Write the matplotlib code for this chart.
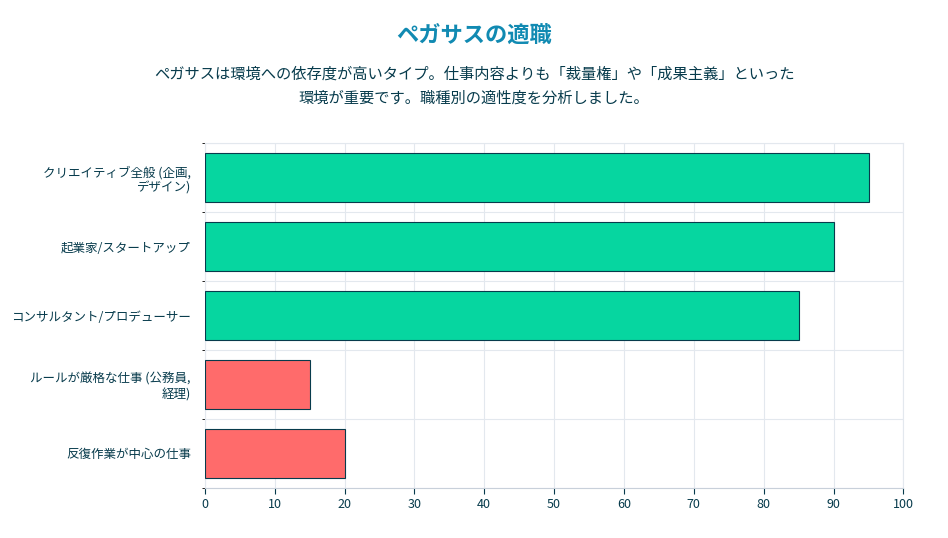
import matplotlib
matplotlib.use("Agg")
import matplotlib.pyplot as plt
import numpy as np

plt.rcParams["font.family"] = "Noto Sans CJK JP"

categories = ["クリエイティブ全般 (企画,\nデザイン)", "起業家/スタートアップ", "コンサルタント/プロデューサー",
              "ルールが厳格な仕事 (公務員,\n経理)", "反復作業が中心の仕事"]
values = [95, 90, 85, 15, 20]
colors = ["#06D6A0", "#06D6A0", "#06D6A0", "#FF6B6B", "#FF6B6B"]

fig = plt.figure(figsize=(9.48, 5.38), dpi=100)
ax = fig.add_axes([0.216, 0.093, 0.737, 0.641])
y = np.arange(len(categories))
ax.barh(y, values, height=0.72, color=colors, edgecolor="#073B4C", linewidth=0.8, zorder=3)
ax.set_ylim(len(categories) - 0.5, -0.5)
ax.set_xlim(0, 100)
ax.set_xticks(range(0, 101, 10))
ax.set_yticks(y)
ax.set_yticklabels(categories, fontsize=9, color="#073B4C")
ax.tick_params(axis="x", labelsize=9, colors="#073B4C", length=4)
ax.tick_params(axis="y", length=0, pad=10)
for lab in ax.get_xticklabels():
    lab.set_color("#073B4C")
ax.set_yticks(np.arange(-0.5, len(categories), 1), minor=True)
ax.grid(axis="x", color="#e3e8ee", linewidth=0.8, zorder=0)
ax.grid(axis="y", which="minor", color="#e3e8ee", linewidth=0.8, zorder=0)
for s in ax.spines.values():
    s.set_color("#e3e8ee")
ax.spines["bottom"].set_color("#c8d0da")

fig.text(0.5, 0.935, "ペガサスの適職", ha="center", va="center", fontsize=16,
         fontweight="bold", color="#118AB2")
fig.text(0.5, 0.84, "ペガサスは環境への依存度が高いタイプ。仕事内容よりも「裁量権」や「成果主義」といった\n環境が重要です。職種別の適性度を分析しました。",
         ha="center", va="center", fontsize=11, color="#073B4C", linespacing=1.6)
fig.savefig("out.png", dpi=100)
